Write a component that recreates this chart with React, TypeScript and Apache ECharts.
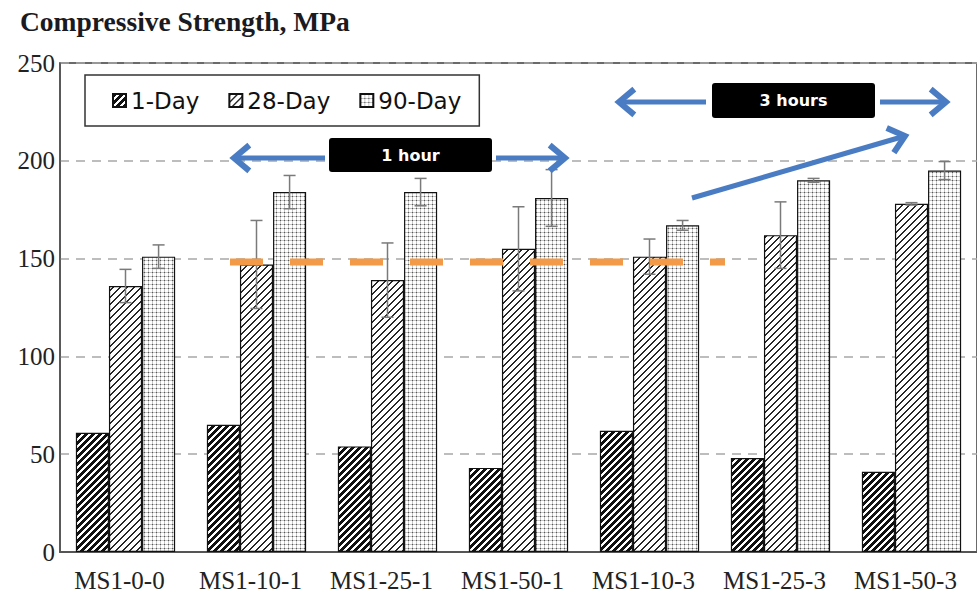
import React, { useEffect, useRef } from "react";
import * as echarts from "echarts";

const categories = ["MS1-0-0", "MS1-10-1", "MS1-25-1", "MS1-50-1", "MS1-10-3", "MS1-25-3", "MS1-50-3"];
const seriesNames = ["1-Day", "28-Day", "90-Day"];
const day1 = [61, 65, 54, 43, 62, 48, 41];
const day28 = [136, 147, 139, 155, 151, 162, 178];
const day90 = [151, 184, 184, 181, 167, 190, 195];
const err28 = [8.5, 22.5, 19, 21.5, 9, 17, 0.6];
const err90 = [6, 8.5, 7, 14.5, 2.5, 1, 4.6];
const yTicks = [0, 50, 100, 150, 200, 250];
const refLevel = 148;

const CAT_GAP = 0.2424;

function stripe(period: number, dark: number, rgb: [number, number, number]) {
  const c = document.createElement("canvas");
  c.width = period;
  c.height = period;
  const ctx = c.getContext("2d")!;
  const img = ctx.createImageData(period, period);
  for (let y = 0; y < period; y++) {
    for (let x = 0; x < period; x++) {
      const d = (x + y) % period;
      const on = d < dark;
      const i = (y * period + x) * 4;
      img.data[i] = on ? rgb[0] : 255;
      img.data[i + 1] = on ? rgb[1] : 255;
      img.data[i + 2] = on ? rgb[2] : 255;
      img.data[i + 3] = 255;
    }
  }
  ctx.putImageData(img, 0, 0);
  return { image: c, repeat: "repeat", imageWidth: period, imageHeight: period };
}

function dots() {
  const n = 4;
  const c = document.createElement("canvas");
  c.width = n;
  c.height = n;
  const ctx = c.getContext("2d")!;
  ctx.fillStyle = "#ffffff";
  ctx.fillRect(0, 0, n, n);
  ctx.fillStyle = "#c4c4c4";
  ctx.fillRect(0, 0, n, 1);
  ctx.fillRect(0, 0, 1, n);
  ctx.fillStyle = "#555555";
  ctx.fillRect(0, 0, 1, 1);
  return { image: c, repeat: "repeat", imageWidth: n, imageHeight: n };
}

function arrowHead(tx: number, ty: number, fx: number, fy: number, len: number, ang: number) {
  const dx = tx - fx, dy = ty - fy;
  const L = Math.hypot(dx, dy);
  const ux = dx / L, uy = dy / L;
  const rot = (a: number) => {
    const c = Math.cos(a), s = Math.sin(a);
    return [tx - len * (ux * c - uy * s), ty - len * (ux * s + uy * c)];
  };
  return [rot(ang), [tx, ty], rot(-ang)];
}

const BLUE = "#4A7CC4";

function arrow(x1: number, y1: number, x2: number, y2: number) {
  return [
    { type: "line", z: 100, shape: { x1, y1, x2, y2 }, style: { stroke: BLUE, lineWidth: 5 } },
    {
      type: "polyline",
      z: 100,
      shape: { points: arrowHead(x2, y2, x1, y1, 20, (40 * Math.PI) / 180) },
      style: { stroke: BLUE, lineWidth: 6, fill: "none", lineJoin: "miter" },
    },
  ];
}

function labelBox(x: number, y: number, w: number, h: number, text: string) {
  return [
    { type: "rect", z: 100, shape: { x, y, width: w, height: h, r: 3 }, style: { fill: "#000" } },
    {
      type: "text",
      z: 101,
      x: x + w / 2,
      y: y + h / 2,
      style: {
        text,
        fill: "#fff",
        font: "bold 16px 'DejaVu Sans'",
        align: "center",
        verticalAlign: "middle",
      },
    },
  ];
}

export default function App() {
  const ref = useRef<HTMLDivElement>(null);
  useEffect(() => {
    if (!ref.current) return;
    const chart = echarts.init(ref.current, null, { renderer: "svg" });
    const patterns = [stripe(7, 4, [17, 17, 17]), stripe(7, 2, [40, 40, 40]), dots()];
    const values = [day1, day28, day90];
    const errs = [null, err28, err90];

    const barSeries = seriesNames.map((name, k) => ({
      name,
      type: "bar",
      data: values[k],
      barGap: "0%",
      barCategoryGap: (CAT_GAP * 100).toFixed(2) + "%",
      itemStyle: { color: patterns[k], borderColor: "#111", borderWidth: 1.2 },
      emphasis: { disabled: true },
      z: 2,
    }));

    const errSeries: any[] = [];
    errs.forEach((e, k) => {
      if (!e) return;
      const off = k - 1;
      errSeries.push({
        type: "custom",
        name: seriesNames[k] + " error",
        z: 5,
        silent: true,
        data: values[k].map((v, i) => [i, v - e[i], v + e[i]]),
        renderItem: (params: any, api: any) => {
          const ci = api.value(0);
          const band = api.size([1, 0])[0];
          const bw = (band * (1 - CAT_GAP)) / 3;
          const cx = api.coord([ci, 0])[0] + off * bw;
          const yLo = api.coord([ci, api.value(1)])[1];
          const yHi = api.coord([ci, api.value(2)])[1];
          const cap = 6;
          const st = { stroke: "#7a7a7a", lineWidth: 1.5 };
          return {
            type: "group",
            children: [
              { type: "line", shape: { x1: cx, y1: yHi, x2: cx, y2: yLo }, style: st },
              { type: "line", shape: { x1: cx - cap, y1: yHi, x2: cx + cap, y2: yHi }, style: st },
              { type: "line", shape: { x1: cx - cap, y1: yLo, x2: cx + cap, y2: yLo }, style: st },
            ],
          };
        },
      });
    });

    const graphic: any[] = [
      {
        type: "text",
        left: 20,
        top: 7,
        z: 100,
        style: {
          text: "Compressive Strength, MPa",
          fill: "#1a1a22",
          font: "bold 27.5px 'Liberation Serif'",
        },
      },
      {
        type: "line",
        shape: { x1: 230, y1: 262, x2: 725, y2: 262 },
        style: { stroke: "#F29A48", lineWidth: 7, lineDash: [33, 27] },
        z: 100,
      },
      ...arrow(325, 158, 234, 158),
      ...arrow(496, 158, 565, 158),
      ...labelBox(329, 138, 163, 34, "1 hour"),
      ...arrow(706, 102, 619, 102),
      ...arrow(880, 102, 946, 102),
      ...labelBox(712, 83, 163, 35, "3 hours"),
      ...arrow(692, 198, 905, 136),
    ];

    chart.setOption({
      animation: false,
      grid: {
        left: 60,
        top: 63,
        width: 924,
        height: 489,
        show: true,
        borderColor: "#3a3a3a",
        borderWidth: 1.5,
        containLabel: false,
      },
      legend: {
        data: seriesNames,
        left: 85,
        top: 75,
        orient: "horizontal",
        padding: [14, 18, 14, 27],
        borderColor: "#333",
        borderWidth: 1.5,
        itemWidth: 13,
        itemHeight: 13,
        itemGap: 29,
        selectedMode: false,
        icon: "rect",
        textStyle: { fontFamily: "DejaVu Sans", fontSize: 23, color: "#111", padding: [0, 0, 0, 0] },
      },
      xAxis: {
        type: "category",
        data: categories,
        axisTick: { show: false },
        axisLine: { lineStyle: { color: "#555", width: 2 } },
        axisLabel: {
          fontFamily: "Liberation Serif",
          fontSize: 25,
          color: "#222",
          margin: 16,
          interval: 0,
          padding: [0, 12, 0, 0],
        },
      },
      yAxis: {
        type: "value",
        min: yTicks[0],
        max: yTicks[yTicks.length - 1],
        interval: 50,
        axisLine: { show: true, lineStyle: { color: "#555", width: 1.5 } },
        axisTick: { show: false },
        axisLabel: { fontFamily: "Liberation Serif", fontSize: 25, color: "#222", margin: 5 },
        splitLine: { lineStyle: { color: "#a8a8a8", type: [9, 7], width: 1.5 } },
      },
      series: [...barSeries, ...errSeries],
      graphic,
    });
    return () => chart.dispose();
  }, []);
  return (
    <div
      ref={ref}
      style={{ position: "fixed", left: 0, top: 0, width: 977, height: 600, background: "#fff" }}
    />
  );
}
